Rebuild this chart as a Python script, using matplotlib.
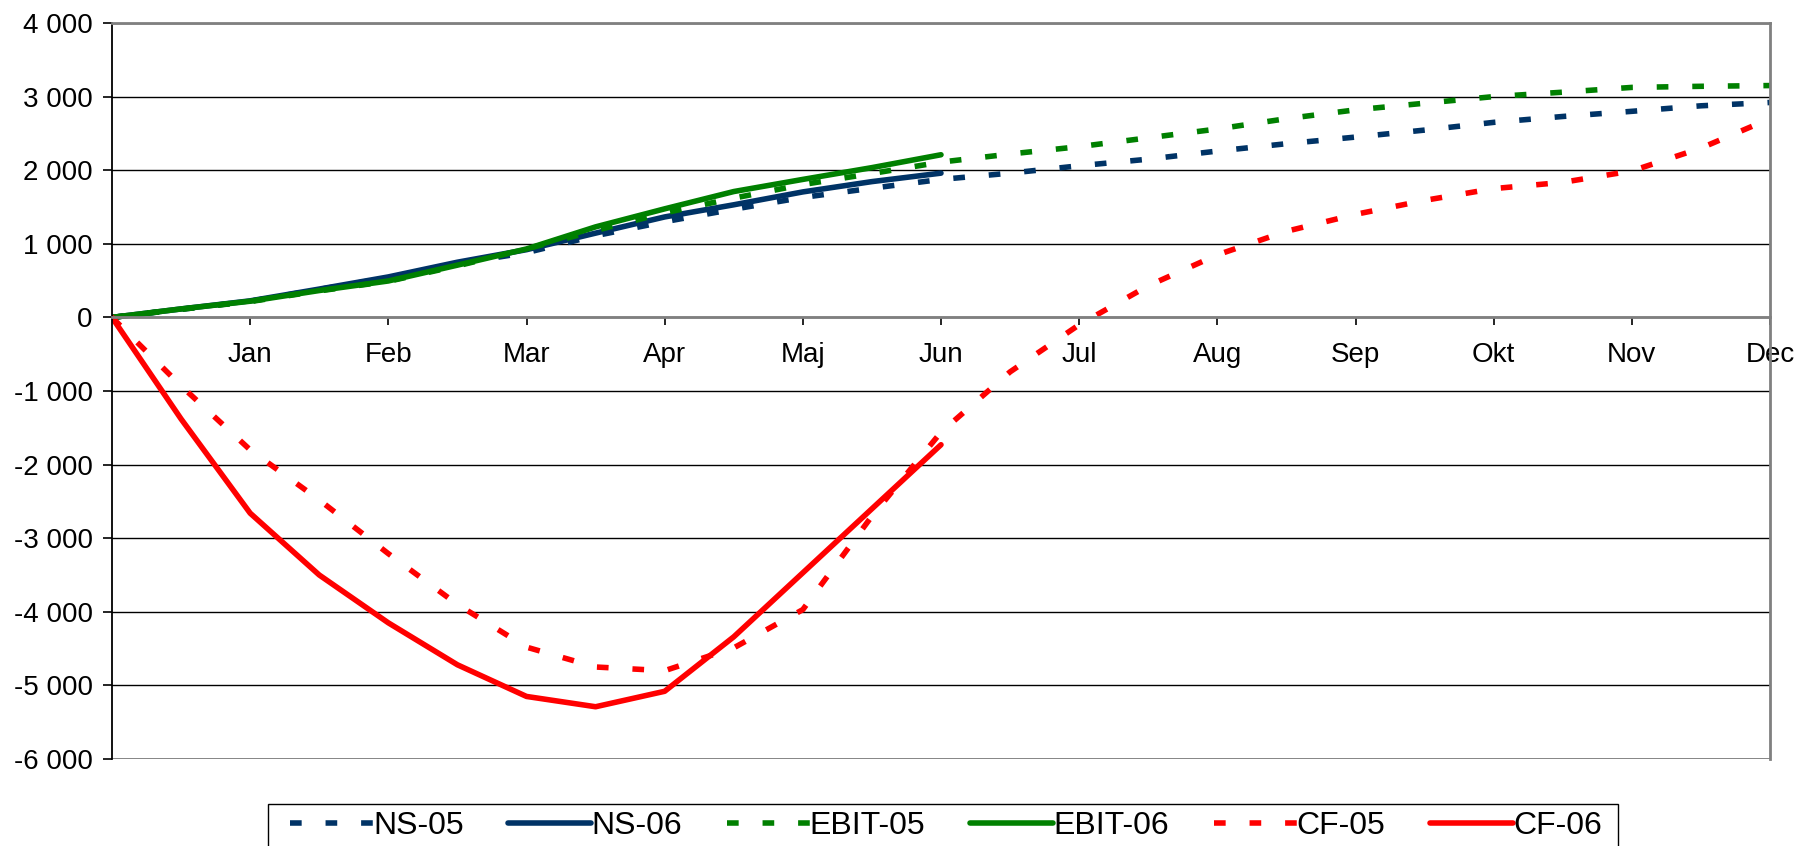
import matplotlib
matplotlib.use('Agg')
import matplotlib.pyplot as plt
from matplotlib.patches import Rectangle
from matplotlib.ticker import FuncFormatter

plt.rcParams['font.family'] = ['Liberation Sans', 'DejaVu Sans']

# x in months (0 = start of year, 12 = end of Dec), half-month steps
months_05 = [0, 0.5, 1, 1.5, 2, 2.5, 3, 3.5, 4, 4.5, 5, 5.5, 6,
             6.5, 7, 7.5, 8, 8.5, 9, 9.5, 10, 10.5, 11, 11.5, 12]
months_06 = [0, 0.5, 1, 1.5, 2, 2.5, 3, 3.5, 4, 4.5, 5, 5.5, 6]
month_labels = ['Jan', 'Feb', 'Mar', 'Apr', 'Maj', 'Jun', 'Jul', 'Aug', 'Sep', 'Okt', 'Nov', 'Dec']

ns_05 = [0, 110, 220, 380, 540, 730, 880, 1110, 1300, 1470, 1630, 1755, 1875,
         1960, 2060, 2150, 2260, 2360, 2450, 2545, 2650, 2730, 2800, 2875, 2920]
ns_06 = [0, 115, 225, 385, 550, 750, 920, 1145, 1365, 1530, 1705, 1845, 1960]

ebit_05 = [0, 110, 215, 360, 490, 700, 930, 1180, 1420, 1620, 1805, 1955, 2110,
           2220, 2320, 2440, 2560, 2700, 2820, 2910, 3000, 3060, 3125, 3140, 3150]
ebit_06 = [0, 115, 220, 365, 495, 710, 930, 1230, 1475, 1710, 1875, 2035, 2210]

cf_05 = [0, -930, -1800, -2480, -3210, -3900, -4480, -4750, -4800, -4490, -3970, -2700, -1560,
         -740, -100, 430, 850, 1170, 1400, 1590, 1750, 1835, 1990, 2300, 2700]
cf_06 = [0, -1380, -2660, -3500, -4150, -4720, -5150, -5290, -5080, -4340, -3470, -2600, -1730]

navy = '#003366'
green = '#008000'
red = '#ff0000'
grey = '#808080'

W, H = 1801, 846
fig = plt.figure(figsize=(W / 100, H / 100), dpi=100)
ax = fig.add_axes([112 / W, 1 - 759 / H, (1770 - 112) / W, (759 - 23) / H])

lw = 4
dash = (2.1, 4.3)
ax.plot(months_05, ns_05, color=navy, lw=lw, dashes=dash, dash_capstyle='butt', label='NS-05')
ax.plot(months_06, ns_06, color=navy, lw=lw, solid_capstyle='round', label='NS-06')
ax.plot(months_05, ebit_05, color=green, lw=lw, dashes=dash, dash_capstyle='butt', label='EBIT-05')
ax.plot(months_06, ebit_06, color=green, lw=lw, solid_capstyle='round', label='EBIT-06')
ax.plot(months_05, cf_05, color=red, lw=lw, dashes=dash, dash_capstyle='butt', label='CF-05')
ax.plot(months_06, cf_06, color=red, lw=lw, solid_capstyle='round', label='CF-06')

ax.set_xlim(0, 12)
ax.set_ylim(-6000, 4000)
ax.set_yticks(range(-6000, 4001, 1000))
ax.yaxis.set_major_formatter(FuncFormatter(lambda v, p: f"{int(v):,}".replace(',', ' ')))
ax.set_xticks(range(1, 13))
ax.set_xticklabels(month_labels)

ax.grid(axis='y', color='black', lw=1)
ax.set_axisbelow(True)

ax.spines['bottom'].set_position(('data', 0))
ax.spines['bottom'].set_color(grey)
ax.spines['bottom'].set_linewidth(2)
for s in ('top', 'right'):
    ax.spines[s].set_color(grey)
    ax.spines[s].set_linewidth(2)
ax.spines['left'].set_color('black')
ax.spines['left'].set_linewidth(1.3)
ax.axhline(-6000, color=grey, lw=2, zorder=2.5)

ax.tick_params(axis='x', direction='out', length=6, width=1.2, color='black', pad=12, labelsize=20)
ax.tick_params(axis='y', direction='out', length=6.5, width=1.2, color='black', pad=7.5, labelsize=20)

# legend without its own frame; box drawn separately so it runs off the bottom edge
leg = fig.legend(loc='center left', bbox_to_anchor=(290 / W, 1 - 826 / H), ncol=6, fontsize=23,
                 handlelength=2.6, handletextpad=0.0, columnspacing=1.4, borderpad=0,
                 frameon=False, borderaxespad=0)
fig.patches.append(Rectangle((268 / W, -20 / H), 1350 / W, (846 - 804 + 20) / H,
                             transform=fig.transFigure, fill=False, edgecolor='black', lw=1))

fig.savefig('out.png', dpi=100)
